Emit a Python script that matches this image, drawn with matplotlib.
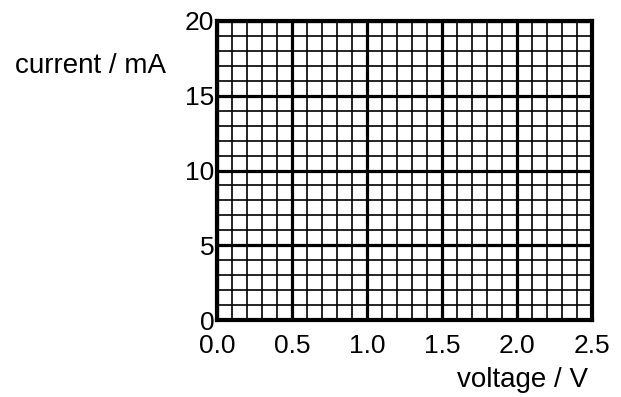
import matplotlib
matplotlib.use("Agg")
import matplotlib.pyplot as plt
import numpy as np
from matplotlib.ticker import MultipleLocator

# axis ranges and tick labels of the blank graph paper
x_ticks = [0.0, 0.5, 1.0, 1.5, 2.0, 2.5]
x_labels = ["0.0", "0.5", "1.0", "1.5", "2.0", "2.5"]
y_ticks = [0, 5, 10, 15, 20]
y_labels = ["0", "5", "10", "15", "20"]
x_minor_step = 0.1
y_minor_step = 1

plt.rcParams["font.family"] = ["Liberation Sans", "DejaVu Sans"]

W, H = 621, 397
fig = plt.figure(figsize=(W / 100, H / 100), dpi=100)
ax = fig.add_axes([217 / W, 1 - 320 / H, (592 - 217) / W, (320 - 21) / H])

ax.set_xlim(x_ticks[0], x_ticks[-1])
ax.set_ylim(y_ticks[0], y_ticks[-1])
ax.set_xticks(x_ticks)
ax.set_xticklabels(x_labels)
ax.set_yticks(y_ticks)
ax.set_yticklabels(y_labels)
ax.xaxis.set_minor_locator(MultipleLocator(x_minor_step))
ax.yaxis.set_minor_locator(MultipleLocator(y_minor_step))

ax.grid(which="minor", color="black", linewidth=1.2)
ax.grid(which="major", color="black", linewidth=2.3)
ax.set_axisbelow(False)
for s in ax.spines.values():
    s.set_linewidth(3)
ax.tick_params(which="both", length=0, labelsize=19, colors="black")
ax.tick_params(axis="x", pad=10)
ax.tick_params(axis="y", pad=2)

fig.text(15 / W, 1 - 73 / H, "current / mA", fontsize=20, ha="left", va="baseline")
fig.text(588 / W, 1 - 387 / H, "voltage / V", fontsize=20, ha="right", va="baseline")

fig.savefig("out.png", dpi=100)
